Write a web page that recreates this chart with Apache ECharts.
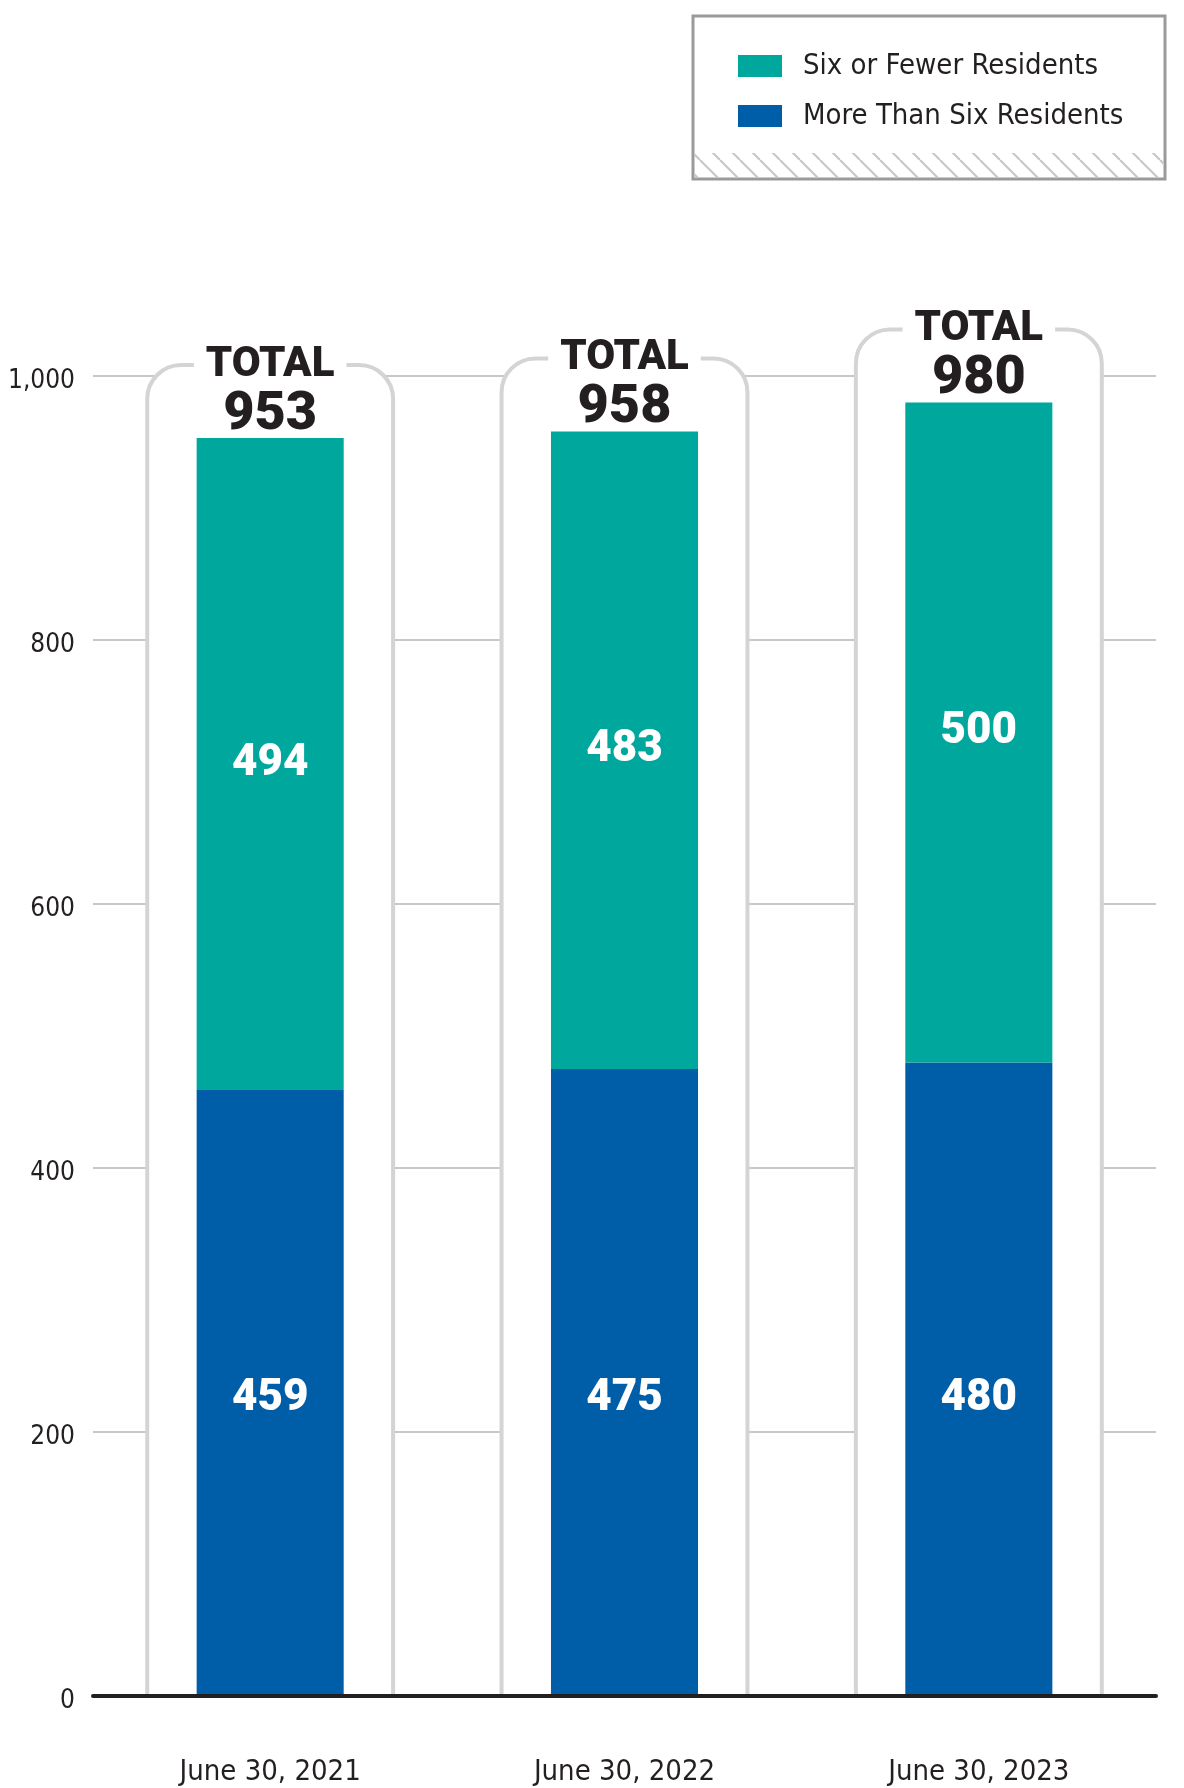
<!DOCTYPE html>
<html>
<head>
<meta charset="utf-8">
<script src="https://cdn.jsdelivr.net/npm/echarts@6/dist/echarts.min.js"></script>
<style>
html,body{margin:0;padding:0;background:#fff;}
#chart{width:1184px;height:1788px;}
</style>
</head>
<body>
<div id="chart"></div>
<script>
const categories = ['June 30, 2021', 'June 30, 2022', 'June 30, 2023'];
const sixOrFewer = [494, 483, 500];
const moreThanSix = [459, 475, 480];
const totals = categories.map((c, i) => sixOrFewer[i] + moreThanSix[i]);
const seriesNames = ['Six or Fewer Residents', 'More Than Six Residents'];

const TEAL = '#00A79D';
const BLUE = '#005EA8';
const INK = '#231F20';
const NARROW = '"DejaVu Sans Condensed", sans-serif';
const BOLD = 'Roboto, "Open Sans", sans-serif';

// hatch pattern tile
const tile = document.createElement('canvas');
tile.width = 20; tile.height = 20;
const tctx = tile.getContext('2d');
tctx.strokeStyle = '#c6c6c6';
tctx.lineWidth = 2;
for (let k = -1; k <= 1; k++) {
  tctx.beginPath();
  tctx.moveTo(k * 20, 0);
  tctx.lineTo(k * 20 + 20, 20);
  tctx.stroke();
}

const chart = echarts.init(document.getElementById('chart'), null, {renderer: 'canvas'});

const option = {
  backgroundColor: '#fff',
  animation: false,
  grid: {left: 93, right: 28, top: 376, bottom: 92, containLabel: false, outerBoundsMode: 'none'},
  legend: {
    data: seriesNames,
    orient: 'vertical',
    left: 738,
    top: 51,
    padding: 0,
    itemWidth: 44,
    itemHeight: 22,
    itemGap: 20,
    icon: 'rect',
    selectedMode: false,
    textStyle: {
      fontFamily: NARROW,
      fontSize: 29,
      lineHeight: 30,
      color: INK,
      padding: [0, 0, 0, 16]
    }
  },
  graphic: [
    {
      type: 'rect', z: 0,
      shape: {x: 693, y: 16, width: 472, height: 163},
      style: {fill: '#fff', stroke: '#9a9a9a', lineWidth: 3}
    },
    {
      type: 'rect', z: 1,
      shape: {x: 694.5, y: 153, width: 469, height: 24.5},
      style: {fill: {image: tile, repeat: 'repeat'}}
    }
  ],
  xAxis: {
    type: 'category',
    data: categories,
    z: 10,
    axisTick: {show: false},
    axisLine: {lineStyle: {color: INK, width: 4}},
    axisLabel: {fontFamily: NARROW, fontSize: 29, color: INK, margin: 62},
    splitLine: {show: false}
  },
  yAxis: {
    type: 'value',
    min: 0, max: 1000, interval: 200,
    axisLine: {show: false},
    axisTick: {show: false},
    axisLabel: {
      fontFamily: NARROW, fontSize: 26, color: INK, margin: 18,
      verticalAlign: 'top', lineHeight: 26, padding: [-8, 0, 0, 0],
      formatter: v => v.toLocaleString('en-US')
    },
    splitLine: {lineStyle: {color: '#c8c8c8', width: 2}}
  },
  series: [
    {
      name: seriesNames[1],
      type: 'bar',
      stack: 'total',
      z: 2,
      barWidth: '41.5%',
      data: moreThanSix,
      itemStyle: {color: BLUE},
      label: {
        show: true, position: 'insideBottom', distance: 275, color: '#fff',
        fontFamily: BOLD, fontWeight: 900, fontSize: 44
      }
    },
    {
      name: seriesNames[0],
      type: 'bar',
      stack: 'total',
      z: 2,
      barWidth: '41.5%',
      data: sixOrFewer,
      itemStyle: {color: TEAL},
      label: {
        show: true, position: 'inside', color: '#fff',
        fontFamily: BOLD, fontWeight: 900, fontSize: 44
      }
    },
    {
      name: 'Total',
      type: 'custom',
      z: 1,
      silent: true,
      data: totals.map((t, i) => [i, t]),
      encode: {x: 0, y: 1},
      renderItem: function (params, api) {
        const i = api.value(0);
        const t = api.value(1);
        const topPt = api.coord([i, t]);
        const base = api.coord([i, 0]);
        const band = api.size([1, 0])[0];
        const w = band * 0.694;
        const x = topPt[0] - w / 2;
        const frameTop = topPt[1] - 73;
        return {
          type: 'group',
          children: [
            {
              type: 'rect',
              shape: {x: x, y: frameTop, width: w, height: base[1] - frameTop, r: [34, 34, 0, 0]},
              style: {fill: '#fff', stroke: '#d4d4d4', lineWidth: 4},
              z2: 1
            },
            {
              type: 'text',
              x: topPt[0], y: frameTop,
              z2: 5,
              style: {
                text: 'TOTAL', fill: INK,
                fontFamily: BOLD, fontWeight: 900, fontSize: 42,
                align: 'center', verticalAlign: 'middle',
                backgroundColor: '#fff', padding: [2, 12, 2, 12]
              }
            },
            {
              type: 'text',
              x: topPt[0], y: topPt[1] - 23,
              z2: 5,
              style: {
                text: String(t), fill: INK,
                fontFamily: BOLD, fontWeight: 900, fontSize: 54,
                align: 'center', verticalAlign: 'middle'
              }
            }
          ]
        };
      }
    }
  ]
};

chart.setOption(option);
</script>
</body>
</html>
